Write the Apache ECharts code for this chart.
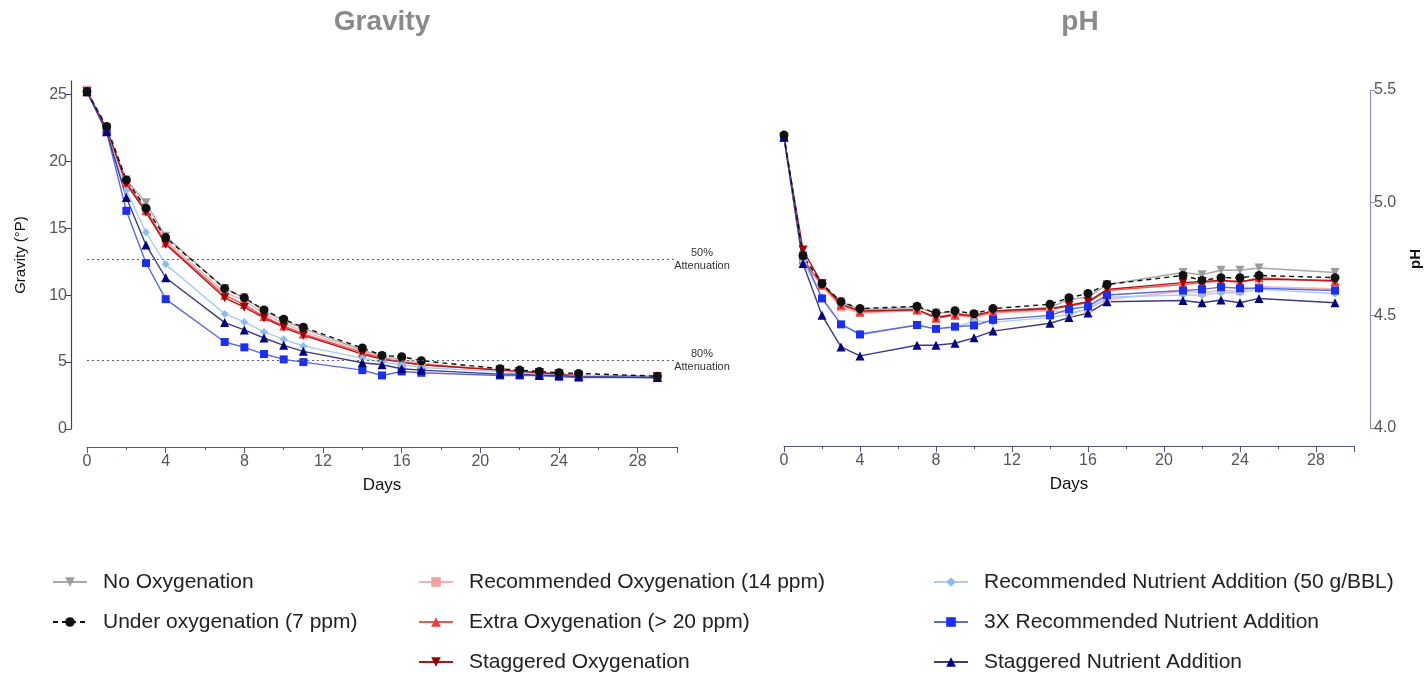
<!DOCTYPE html>
<html>
<head>
<meta charset="utf-8">
<script src="https://cdn.jsdelivr.net/npm/echarts@6/dist/echarts.min.js"></script>
<style>
  html, body { margin: 0; padding: 0; background: #fff; }
  #main { width: 1427px; height: 674px; }
</style>
</head>
<body>
<div id="main"></div>
<script>
// sampling days (shared by every series)
const days = [0, 1, 2, 3, 4, 7, 8, 9, 10, 11, 14, 15, 16, 17, 21, 22, 23, 24, 25, 29];

const seriesNames = [
  'No Oxygenation',
  'Under oxygenation (7 ppm)',
  'Recommended Oxygenation (14 ppm)',
  'Extra Oxygenation (> 20 ppm)',
  'Staggered Oxygenation',
  'Recommended Nutrient Addition (50 g/BBL)',
  '3X Recommended Nutrient Addition',
  'Staggered Nutrient Addition'
];

// gravity (°P)
const gravityNoOxy = [25.3, 22.3, 18.6, 16.9, 14.4, 10.5, 9.8, 8.8, 8.1, 7.5, 5.9, 5.4, 5.2, 4.9, 4.4, 4.3, 4.2, 4.1, 4.0, 3.9];
const gravityUnderOxy = [25.2, 22.6, 18.6, 16.5, 14.3, 10.5, 9.8, 8.9, 8.2, 7.6, 6.05, 5.5, 5.4, 5.1, 4.5, 4.4, 4.3, 4.2, 4.15, 3.95];
const gravityRecOxy = [25.3, 22.4, 18.5, 16.4, 14.1, 10.2, 9.6, 8.6, 7.9, 7.3, 5.8, 5.4, 5.1, 4.9, 4.4, 4.3, 4.2, 4.1, 4.0, 3.8];
const gravityExtraOxy = [25.2, 22.4, 18.4, 16.3, 13.9, 10.0, 9.3, 8.4, 7.7, 7.1, 5.7, 5.3, 5.0, 4.8, 4.4, 4.3, 4.2, 4.1, 4.0, 3.9];
const gravityStagOxy = [25.2, 22.4, 18.3, 16.2, 13.8, 9.8, 9.1, 8.3, 7.6, 7.0, 5.6, 5.2, 5.0, 4.8, 4.4, 4.3, 4.2, 4.1, 4.0, 3.9];
const gravityRecNutr = [25.2, 22.2, 17.8, 14.7, 12.3, 8.6, 8.0, 7.25, 6.7, 6.2, 5.3, 5.0, 4.8, 4.6, 4.3, 4.2, 4.1, 4.0, 4.0, 3.9];
const gravity3xNutr = [25.2, 22.2, 16.3, 12.4, 9.7, 6.5, 6.1, 5.6, 5.2, 5.0, 4.4, 4.0, 4.3, 4.2, 4.0, 4.0, 4.0, 3.9, 3.85, 3.85];
const gravityStagNutr = [25.2, 22.2, 17.3, 13.75, 11.3, 7.95, 7.4, 6.8, 6.25, 5.8, 4.95, 4.8, 4.5, 4.4, 4.1, 4.1, 4.0, 4.0, 3.9, 3.85];

// pH
const phNoOxy = [5.29, 4.725, 4.64, 4.56, 4.525, 4.535, 4.51, 4.515, 4.49, 4.52, 4.535, 4.57, 4.58, 4.637, 4.69, 4.68, 4.70, 4.70, 4.71, 4.69];
const phUnderOxy = [5.30, 4.765, 4.64, 4.56, 4.53, 4.54, 4.51, 4.52, 4.507, 4.53, 4.549, 4.578, 4.597, 4.637, 4.677, 4.655, 4.667, 4.667, 4.677, 4.667];
const phRecOxy = [5.29, 4.74, 4.63, 4.535, 4.51, 4.52, 4.495, 4.505, 4.49, 4.51, 4.52, 4.51, 4.527, 4.57, 4.607, 4.60, 4.61, 4.607, 4.627, 4.618];
const phExtraOxy = [5.29, 4.75, 4.635, 4.545, 4.515, 4.525, 4.487, 4.50, 4.495, 4.515, 4.527, 4.54, 4.557, 4.61, 4.637, 4.645, 4.652, 4.647, 4.667, 4.65];
const phStagOxy = [5.29, 4.79, 4.64, 4.55, 4.52, 4.525, 4.49, 4.505, 4.5, 4.52, 4.53, 4.545, 4.56, 4.615, 4.645, 4.65, 4.655, 4.65, 4.66, 4.655];
const phRecNutr = [5.29, 4.74, 4.58, 4.46, 4.42, 4.455, 4.44, 4.445, 4.475, 4.47, 4.49, 4.505, 4.53, 4.58, 4.59, 4.59, 4.60, 4.60, 4.615, 4.597];
const ph3xNutr = [5.29, 4.765, 4.575, 4.46, 4.415, 4.457, 4.44, 4.45, 4.455, 4.48, 4.50, 4.527, 4.54, 4.59, 4.61, 4.615, 4.625, 4.62, 4.62, 4.61];
const phStagNutr = [5.29, 4.73, 4.50, 4.36, 4.32, 4.367, 4.367, 4.376, 4.40, 4.43, 4.465, 4.49, 4.51, 4.56, 4.566, 4.556, 4.568, 4.556, 4.575, 4.556];

// axis ticks
const gravityTicks = [0, 5, 10, 15, 20, 25];
const phTicks = [4.0, 4.5, 5.0, 5.5];

// attenuation reference levels
const attenuationLabels = ['50%', '80%'];
const attenuationValues = [12.7, 5.1];

const gravityData = [gravityNoOxy, gravityUnderOxy, gravityRecOxy, gravityExtraOxy, gravityStagOxy, gravityRecNutr, gravity3xNutr, gravityStagNutr];
const phData = [phNoOxy, phUnderOxy, phRecOxy, phExtraOxy, phStagOxy, phRecNutr, ph3xNutr, phStagNutr];

// look of each treatment, same order as seriesNames
const looks = [
  { line: '#a8a8a8', mark: '#9b9b9b', symbol: 'triangle', rotate: 180, size: 9 },
  { line: '#111111', mark: '#111111', symbol: 'circle', rotate: 0, size: 9, dash: [5, 4] },
  { line: '#f5b2b2', mark: '#f4a2a2', symbol: 'rect', rotate: 0, size: 8 },
  { line: '#f25454', mark: '#f03c3c', symbol: 'triangle', rotate: 0, size: 9 },
  { line: '#b31212', mark: '#9c0000', symbol: 'triangle', rotate: 180, size: 9 },
  { line: '#aacdf5', mark: '#8cbcf2', symbol: 'diamond', rotate: 0, size: 8 },
  { line: '#5a68e2', mark: '#1a2ff5', symbol: 'rect', rotate: 0, size: 8 },
  { line: '#3c3c82', mark: '#000080', symbol: 'triangle', rotate: 0, size: 9 }
];

// black dashed series last so it sits on top
const drawOrder = [0, 2, 3, 4, 5, 6, 7, 1];

function makeSeries(values, axisIndex) {
  return drawOrder.map(function (i) {
    const look = looks[i];
    return {
      name: seriesNames[i],
      type: 'line',
      xAxisIndex: axisIndex,
      yAxisIndex: axisIndex,
      data: days.map(function (d, k) { return [d, values[i][k]]; }),
      symbol: look.symbol,
      symbolRotate: look.rotate,
      symbolSize: look.size,
      showAllSymbol: true,
      lineStyle: { color: look.line, width: 1.4, type: look.dash || 'solid' },
      itemStyle: { color: look.mark },
      emphasis: { disabled: true }
    };
  });
}

const gravitySeries = makeSeries(gravityData, 0);
const phSeries = makeSeries(phData, 1);

// reference lines for attenuation go on the first gravity series
gravitySeries[0].markLine = {
  silent: true,
  symbol: 'none',
  animation: false,
  lineStyle: { type: [2, 3], color: '#5a5f7e', width: 1.2 },
  label: {
    position: 'end',
    align: 'center',
    distance: 25,
    fontSize: 11,
    lineHeight: 13,
    color: '#333'
  },
  data: attenuationValues.map(function (v, i) {
    return { yAxis: v, label: { formatter: attenuationLabels[i] + '\nAttenuation' } };
  })
};

const axisColor = '#50557a';
const font = 'Liberation Sans, Arial, sans-serif';

function daysAxis(gridIndex) {
  return {
    gridIndex: gridIndex,
    type: 'value',
    min: 0,
    max: 30,
    interval: 4,
    offset: 18,
    axisLine: { show: true, onZero: false, lineStyle: { color: axisColor, width: 1.2 } },
    axisTick: { show: true, length: 6, lineStyle: { color: axisColor } },
    minorTick: { show: true, splitNumber: 2, length: 3, lineStyle: { color: axisColor } },
    splitLine: { show: false },
    axisLabel: { color: '#555', fontSize: 16, margin: 7, showMaxLabel: false, fontFamily: font },
    name: 'Days',
    nameLocation: 'middle',
    nameGap: 30,
    nameMoveOverlap: false,
    nameTextStyle: { color: '#111', fontSize: 17, fontFamily: font }
  };
}

const option = {
  animation: false,
  backgroundColor: '#fff',
  textStyle: { fontFamily: font },
  title: [
    { text: 'Gravity', left: 382, top: 8, textAlign: 'center', padding: 0,
      textStyle: { fontSize: 28, fontWeight: 'bold', color: '#8a8a8a', fontFamily: font } },
    { text: 'pH', left: 1080, top: 8, textAlign: 'center', padding: 0,
      textStyle: { fontSize: 28, fontWeight: 'bold', color: '#8a8a8a', fontFamily: font } }
  ],
  grid: [
    { left: 87, top: 81, width: 590, height: 348, outerBoundsMode: 'none' },
    { left: 784, top: 90, width: 570, height: 338, outerBoundsMode: 'none' }
  ],
  xAxis: [daysAxis(0), daysAxis(1)],
  yAxis: [
    {
      gridIndex: 0,
      type: 'value',
      position: 'left',
      min: 0,
      max: 26,
      offset: 16,
      axisLine: { show: true, onZero: false, lineStyle: { color: '#3d3f66', width: 1.2 } },
      axisTick: { show: true, length: 5, customValues: gravityTicks, lineStyle: { color: '#3d3f66' } },
      axisLabel: { customValues: gravityTicks, color: '#555', fontSize: 16, margin: 4, fontFamily: font },
      splitLine: { show: false },
      name: 'Gravity (°P)',
      nameLocation: 'middle',
      nameGap: 43,
      nameRotate: 90,
      nameMoveOverlap: false,
      nameTextStyle: { color: '#111', fontSize: 15, fontFamily: font }
    },
    {
      gridIndex: 1,
      type: 'value',
      position: 'right',
      min: 4.0,
      max: 5.5,
      offset: 16,
      axisLine: { show: true, onZero: false, lineStyle: { color: '#8a90a8', width: 1.2 } },
      axisTick: { show: true, length: 5, customValues: phTicks, lineStyle: { color: '#8a90a8' } },
      axisLabel: {
        customValues: phTicks, color: '#555', fontSize: 16, margin: 4, fontFamily: font,
        formatter: function (v) { return v.toFixed(1); }
      },
      splitLine: { show: false },
      name: 'pH',
      nameLocation: 'middle',
      nameGap: 38,
      nameRotate: 90,
      nameMoveOverlap: false,
      nameTextStyle: { color: '#111', fontSize: 15, fontWeight: 'bold', fontFamily: font }
    }
  ],
  legend: [
    { data: seriesNames.slice(0, 2), left: 52, top: 571 },
    { data: seriesNames.slice(2, 5), left: 418, top: 571 },
    { data: seriesNames.slice(5, 8), left: 933, top: 571 }
  ].map(function (l) {
    return Object.assign({
      orient: 'vertical',
      padding: 0,
      itemGap: 18,
      itemWidth: 34,
      itemHeight: 12,
      selectedMode: false,
      textStyle: { fontSize: 21, lineHeight: 22, color: '#222', padding: [0, 0, 0, 11], fontFamily: font }
    }, l);
  }),
  series: gravitySeries.concat(phSeries)
};

const chart = echarts.init(document.getElementById('main'), null, { renderer: 'canvas' });
chart.setOption(option);
</script>
</body>
</html>
